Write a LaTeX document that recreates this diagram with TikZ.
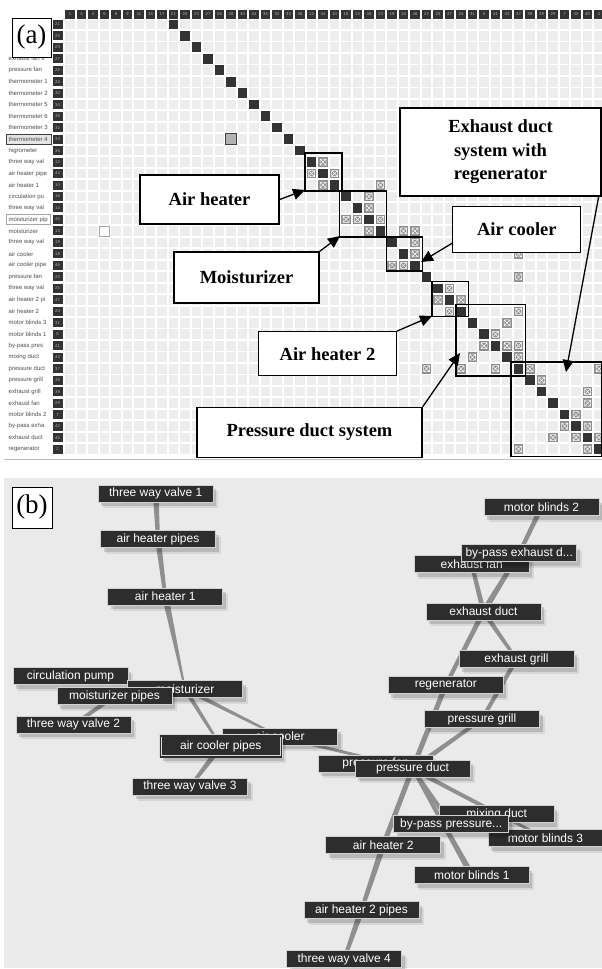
\documentclass[tikz,border=0pt]{standalone}
\usepackage{fontspec}
\setmainfont{Liberation Serif}
\newfontfamily\sansf{Liberation Sans}
\usetikzlibrary{arrows.meta,calc,shadows}
\pgfdeclarelayer{bgzero}
\pgfdeclarelayer{edges}
\pgfsetlayers{bgzero,edges,main}
\definecolor{cellbg}{HTML}{EDEDED}
\definecolor{darkc}{HTML}{333333}
\definecolor{xcg}{HTML}{8E8E8E}
\definecolor{nodebg}{HTML}{2D2D2D}
\definecolor{edgecol}{HTML}{8F8F8F}
\definecolor{panelb}{HTML}{EAEAEA}
\newcommand{\edgew}[4]{\fill[edgecol] ($(#1)!#3!90:(#2)$) -- ($(#2)!#4!-90:(#1)$) -- ($(#2)!#4!90:(#1)$) -- ($(#1)!#3!-90:(#2)$) -- cycle;}
\tikzset{
 lightcell/.style={fill=cellbg},
 darkcell/.style={fill=darkc},
 xcell/.style={fill=xcg},
 hdr/.style={fill=darkc, minimum width=9.6pt, minimum height=9pt, inner sep=0pt, text=white!70!black, font=\sansf\fontsize{4.2}{5}\selectfont},
 rowlab/.style={anchor=west, inner sep=0pt, text=black!70, font=\sansf\fontsize{6}{7}\selectfont},
 labbox/.style={draw=black, line width=1.3pt, fill=white, inner sep=0pt, font=\bfseries\fontsize{18.5}{23.5}\selectfont, align=center},
 callout/.style={line width=1.3pt, -{Triangle[length=12pt,width=11pt]}},
 bnode/.style={fill=nodebg, draw=black!18, line width=0.7pt, text=white, inner sep=0pt, minimum width=115pt, minimum height=17pt, font=\sansf\fontsize{12}{14}\selectfont,
   drop shadow={shadow xshift=5pt, shadow yshift=-6pt, opacity=0.08, fill=black},
   drop shadow={shadow xshift=3pt, shadow yshift=-4pt, opacity=0.14, fill=black}},
 panellab/.style={draw=black, line width=0.8pt, fill=white, inner sep=0pt, font=\fontsize{27}{30}\selectfont},
 block/.style={draw=black, line width=1.4pt}
}
\begin{document}
\begin{tikzpicture}[x=1pt,y=-1pt]
\useasboundingbox (0,0) rectangle (602,969);
\begin{pgfonlayer}{bgzero}
\fill[white] (0,0) rectangle (602,969);
\fill[panelb] (4,478) rectangle (602,968);
\end{pgfonlayer}
% ---------------- panel (a): matrix ----------------
\foreach \i in {0,...,37}{\foreach \j in {0,...,46}{
  \fill[lightcell] ({70+11.5*\j-4.8},{24.3+11.48*\i-4.8}) rectangle +(9.6,9.6);}}
\foreach \i in {0,...,37}{
  \fill[darkcell] ({70+11.5*(\i+9)-4.8},{24.3+11.48*\i-4.8}) rectangle +(9.6,9.6);}
\foreach \r/\c in {12/22,13/21,13/23,14/22,14/27,15/26,16/26,17/24,17/25,17/27,18/26,18/29,18/30,19/30,20/30,20/39,21/28,21/29,22/39,23/33,24/32,24/34,25/33,25/39,26/38,27/37,28/36,28/38,28/39,29/35,29/39,30/31,30/34,30/37,30/40,30/46,31/41,32/45,33/45,34/44,35/43,35/45,36/42,36/44,36/46,37/39,37/45}{
  \pgfmathsetmacro\xx{70+11.5*\c}
  \pgfmathsetmacro\yy{24.3+11.48*\r}
  \fill[xcell] (\xx-4.8,\yy-4.8) rectangle +(9.6,9.6);
  \draw[white,line width=0.5pt] (\xx-3,\yy-3) rectangle (\xx+3,\yy+3) (\xx-3,\yy-3) -- (\xx+3,\yy+3) (\xx-3,\yy+3) -- (\xx+3,\yy-3);
}
% header numbers
\foreach \n [count=\k from 0] in {1,3,4,6,8,9,11,15,17,21,20,23,27,26,28,30,34,35,32,33,36,12,44,10,16,14,45,13,19,18,46,22,25,47,24,31,5,41,43,37,38,39,29,7,42,40,2}{
  \node[hdr] (h\k) at ({70+11.5*\k},14.3) {\n};}
% row numbers
\foreach \n [count=\k from 0] in {21,20,23,27,26,28,30,34,35,32,33,36,12,44,10,16,14,45,13,19,18,46,22,25,47,24,31,5,41,43,37,38,39,29,7,42,40,2}{
  \node[hdr, minimum width=10pt] (rn\k) at (57.5,{24.3+11.48*\k}) {\n};}
% highlighted label frames
\draw[black!75, line width=0.9pt, fill=black!10] (6,134.3) rectangle (51.7,144.3);
\draw[black!35, line width=0.6pt] (6,214.5) rectangle (50.5,224.5);
% row labels
\foreach \lab [count=\k from 3] in {exhaust fan s,pressure fan,thermometer 1,thermometer 2,thermometer 5,thermometer 6,thermometer 3,thermometer 4,higrometer,three way val,air heater pipe,air heater 1,circulation pu,three way val,moisturizer pip,moisturizer,three way val,air cooler,air cooler pipe,pressure fan,three way val,air heater 2 pi,air heater 2,motor blinds 3,motor blinds 1,by-pass pres,mixing duct,pressure duct,pressure grill,exhaust grill,exhaust fan,motor blinds 2,by-pass exha,exhaust duct,regenerator}{
  \node[rowlab] (rl\k) at (8.5,{24.3+11.48*\k}) {\lab};}
% special cells
\draw[black!75, line width=0.9pt, fill=black!30] (225.2,133.3) rectangle +(11.6,11.6);
\draw[black!35, line width=0.6pt, fill=white] (99.5,225.9) rectangle +(10,10);
\draw[black!25, line width=0.8pt] (4,459) -- (602,459);
% blocks
\draw[block] (305,153) rectangle (342,191);
\draw[block] (339.5,191) rectangle (386.5,237);
\draw[block] (386.5,237) rectangle (422.5,271);
\draw[block] (432,281.5) rectangle (468.5,316.5);
\draw[block] (456,304.5) rectangle (525.5,376);
\draw[block] (511,362) rectangle (601.5,456.5);
% call-out boxes
\node[labbox, minimum width=139pt, minimum height=49pt] (AHb) at (209.5,199.5) {Air heater};
\node[labbox, minimum width=145pt, minimum height=51pt] (MOb) at (246.5,277.5) {Moisturizer};
\node[labbox, minimum width=128pt, minimum height=46pt] (ACb) at (516.8,229.2) {Air cooler};
\node[labbox, minimum width=201pt, minimum height=88pt] (EXb) at (500.5,152) {Exhaust duct\\system with\\regenerator};
\node[labbox, minimum width=138pt, minimum height=44pt] (AH2b) at (327.5,353.7) {Air heater 2};
\node[labbox, minimum width=225pt, minimum height=50pt] (PDb) at (309.5,432.5) {Pressure duct system};
\coordinate (tAH) at (305,190);
\coordinate (tMO) at (340,236);
\coordinate (tAC) at (421,262);
\coordinate (tEX) at (566,372);
\coordinate (tAH2) at (432,316);
\coordinate (tPD) at (460,353);
\draw[callout] (AHb.east) -- (tAH);
\draw[callout] (MOb.north east) -- (tMO);
\draw[callout] ([yshift=-14pt]ACb.west) -- (tAC);
\draw[callout] ([xshift=-3pt]EXb.south east) -- (tEX);
\draw[callout] (AH2b.north east) -- (tAH2);
\draw[callout] (PDb.north east) -- (tPD);
\node[panellab, minimum width=39pt, minimum height=39pt] (pa) at (31.5,37.5) {(a)};
% ---------------- panel (b): graph ----------------
\node[panellab, minimum width=40pt, minimum height=41pt] (pb) at (32,507.5) {(b)};
\node[bnode] (twv1) at (155.7,493.5) {three way valve 1};
\node[bnode] (ahp) at (158,539.2) {air heater pipes};
\node[bnode] (ah1) at (165.3,596.7) {air heater 1};
\node[bnode] (circ) at (70.5,676.3) {circulation pump};
\node[bnode] (moist) at (185,689) {moisturizer};
\node[bnode] (mp) at (114.5,696.2) {moisturizer pipes};
\node[bnode] (twv2) at (73.5,724.8) {three way valve 2};
\node[bnode] (ac) at (280,736.7) {air cooler};
\node[bnode, minimum width=121pt, minimum height=21pt, draw=black!15, double=nodebg, double distance=1.6pt, line width=0.6pt] (acp) at (220.8,746.2) {air cooler pipes};
\node[bnode] (twv3) at (190,786.7) {three way valve 3};
\node[bnode] (mb2) at (541.5,507.2) {motor blinds 2};
\node[bnode] (ef) at (471.7,564.2) {exhaust fan};
\node[bnode] (bpe) at (519.2,553.3) {by-pass exhaust d...};
\node[bnode] (ed) at (483.5,611.7) {exhaust duct};
\node[bnode] (eg) at (516.5,659.3) {exhaust grill};
\node[bnode] (regen) at (445.8,685) {regenerator};
\node[bnode] (pg) at (482,719) {pressure grill};
\node[bnode] (pf) at (375.8,763.5) {pressure fan};
\node[bnode] (pd) at (412.5,768.7) {pressure duct};
\node[bnode] (md) at (496.7,814.3) {mixing duct};
\node[bnode] (mb3) at (545.5,838.3) {motor blinds 3};
\node[bnode] (bpp) at (451.2,824.2) {by-pass pressure...};
\node[bnode] (ah2) at (383.3,845) {air heater 2};
\node[bnode] (mb1) at (471.8,875) {motor blinds 1};
\node[bnode] (ah2p) at (361.5,910) {air heater 2 pipes};
\node[bnode] (twv4) at (344.2,959) {three way valve 4};
\begin{pgfonlayer}{edges}
\edgew{twv1}{ahp}{2.8pt}{2pt}
\edgew{ahp}{ah1}{2.8pt}{1.8pt}
\edgew{ah1}{moist}{3.2pt}{0.8pt}
\edgew{moist}{acp}{2.2pt}{1.2pt}
\edgew{moist}{ac}{2.2pt}{1pt}
\edgew{mp}{twv2}{2pt}{2pt}
\edgew{acp}{twv3}{3pt}{1.5pt}
\edgew{ac}{pd}{1.8pt}{1.2pt}
\edgew{mb2}{bpe}{2.5pt}{2pt}
\edgew{bpe}{ed}{2pt}{3pt}
\edgew{ef}{ed}{2pt}{2.5pt}
\edgew{ed}{eg}{2.5pt}{1.5pt}
\edgew{ed}{regen}{2.5pt}{2pt}
\edgew{eg}{pg}{2.2pt}{2pt}
\edgew{regen}{pd}{2.5pt}{2.5pt}
\edgew{pg}{pd}{1.8pt}{2.5pt}
\edgew{pd}{ah2}{2.5pt}{2.5pt}
\edgew{pd}{bpp}{2pt}{2pt}
\edgew{pd}{md}{2.5pt}{1pt}
\edgew{pd}{mb3}{1.5pt}{1.5pt}
\edgew{pd}{mb1}{1.5pt}{3pt}
\edgew{ah2}{ah2p}{3pt}{2pt}
\edgew{ah2p}{twv4}{3pt}{1.8pt}
\end{pgfonlayer}
\end{tikzpicture}
\end{document}
